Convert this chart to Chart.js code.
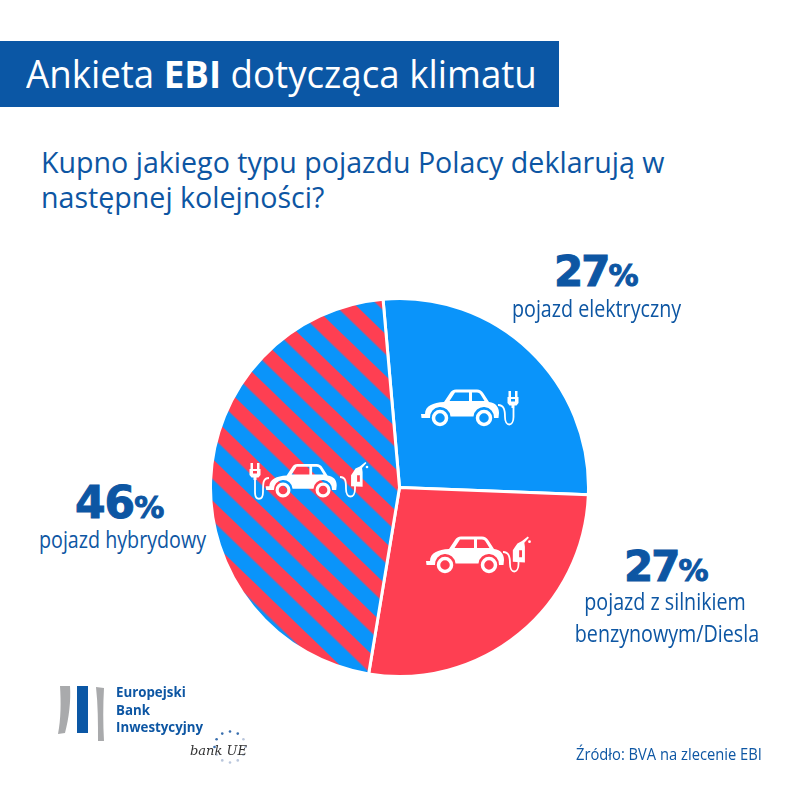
<!DOCTYPE html>
<html lang="pl">
<head>
<meta charset="utf-8">
<title>Ankieta EBI dotycząca klimatu</title>
<script src="https://cdn.jsdelivr.net/npm/chart.js@4"></script>
<style>
  html, body { margin: 0; padding: 0; background: #fff; }
  #page { position: relative; width: 800px; height: 800px; overflow: hidden; font-family: "Open Sans", sans-serif; color: #0d56a3; }
  #page div { position: absolute; white-space: nowrap; }
  #banner { left: 0; top: 41px; width: 559px; height: 66px; background: #0b57a5; }
  #title { left: 26px; top: 48px; font-size: 38px; line-height: 50px; color: #fff; transform: scaleX(.965); transform-origin: left; }
  #question { left: 41px; top: 144px; font-size: 28.6px; line-height: 35px; }
  #pie { position: absolute; left: 209px; top: 297px; }
  .pct { font-family: "DejaVu Sans", sans-serif; font-weight: 700; font-size: 42px; line-height: 40px; letter-spacing: -2px; -webkit-text-stroke: 1px #0d56a3; }
  .pct span { font-size: 30px; letter-spacing: 0; }
  .lbl { font-size: 24px; line-height: 32px; text-align: center; transform: scaleX(.82); }
  #logo { left: 116px; top: 684px; font-size: 13.3px; line-height: 17.5px; font-weight: 700; }
  #bankue { left: 190px; top: 743px; font-family: "DejaVu Serif", serif; font-style: italic; font-size: 13px; color: #333; }
  #source { left: 576px; top: 743px; font-size: 15.5px; line-height: 22px; transform: scaleX(.95); transform-origin: left; }
  svg { position: absolute; left: 0; top: 0; }
</style>
</head>
<body>
<div id="page">
  <div id="banner"></div>
  <div id="title">Ankieta <b>EBI</b> dotycząca klimatu</div>
  <div id="question">Kupno jakiego typu pojazdu Polacy deklarują w<br>następnej kolejności?</div>
  <canvas id="pie" width="381" height="381"></canvas>

  <div class="pct" id="pct0" style="left:554px;top:252px"></div>
  <div class="lbl" id="lbl0" style="left:494px;top:292px;width:200px"></div>
  <div class="pct" id="pct1" style="left:624px;top:547px"></div>
  <div class="lbl" id="lbl1" style="left:555px;top:585px;width:220px"></div>
  <div class="pct" id="pct2" style="left:75px;top:483px;font-size:44px;letter-spacing:-1px"></div>
  <div class="lbl" id="lbl2" style="left:21px;top:523px;width:200px"></div>

  <svg width="800" height="800" viewBox="0 0 800 800">
    <defs>
      <g id="car">
        <path fill="#fff" fill-rule="evenodd" d="M421 414h4c0-8 8-11.500 19-12l6-9q2-3.500 6-3.500h21q4 0 6.500 4l5.500 8.500c7 1 10 5 10 11l-.5 5h-4.500a10.200 10.200 0 0 0-20.500-1.500h-23a10.200 10.200 0 0 0-20.500 1.500h-8.500zM455 392.500l-5.500 8.500h19.500v-8.500zM472 392.500v8.500h12.500l-4-6.500q-1-2-3.500-2z"/>
        <circle cx="440" cy="418" r="6.500" fill="none" stroke="#fff" stroke-width="3.500"/>
        <circle cx="484" cy="418" r="6.500" fill="none" stroke="#fff" stroke-width="3.500"/>
      </g>
      <g id="plug">
        <path fill="#fff" fill-rule="evenodd" d="M-4.500 0h2.500v6h4v-6h2.500v6h1v6l-2 2.500h-2v2.500h-3v-2.500h-2l-2-2.500v-6h1zM-2 8v2.500h4v-2.500z"/>
      </g>
      <g id="pump">
        <path fill="#fff" fill-rule="evenodd" d="M-4.500 12v-10l2-3 2-3 4-2 5-4 1 1-4 4.500.5 3.500v13.500zM1 2v6h2.500v-6z"/>
        <circle cx="10" cy="-5.500" r="1.200" fill="#fff"/>
      </g>
    </defs>

    <use href="#car"/>
    <use href="#plug" x="513" y="391"/>
    <path fill="none" stroke="#fff" stroke-width="1.800" d="M498 405c6 0 7 5 7 12 0 10 8.500 10 8.500 0v-9"/>

    <use href="#car" x="5" y="147"/>
    <g transform="translate(518 548) scale(1.15)"><use href="#pump"/></g>
    <path fill="none" stroke="#fff" stroke-width="1.800" d="M503 552c6 0 7 5 7 12 0 10 8.500 10 8.500 0v-5"/>

    <g transform="translate(283 490) scale(.91) translate(-440 -418)"><use href="#car"/></g>
    <use href="#plug" x="255" y="463"/>
    <path fill="none" stroke="#fff" stroke-width="1.800" d="M255 480v12c0 9 8 9 8 0 0-9 0-14 6-14"/>
    <g transform="translate(356 473) scale(1.1)"><use href="#pump"/></g>
    <path fill="none" stroke="#fff" stroke-width="1.800" d="M340 477c6 0 6 5 6 12 0 10 9 10 9 0v-4"/>

    <!-- logo -->
    <path fill="#a9aaac" d="M60 686h10c1 15-1 32-5 47l-7 1c3-15 3-32 2-48z"/>
    <rect x="77" y="686" width="11" height="47" fill="#0b57a5"/>
    <path fill="#a9aaac" d="M96 687l8 1c-1 17-1 36 0 53h-6c0-18 0-36-2-54z"/>
    <g id="stars"></g>
  </svg>

  <div id="logo">Europejski<br>Bank<br>Inwestycyjny</div>
  <div id="bankue">bank UE</div>
  <div id="source">Źródło: BVA na zlecenie EBI</div>
</div>

<script>
  // --- Data ---
  const categories = ["pojazd elektryczny", "pojazd z silnikiem<br>benzynowym/Diesla", "pojazd hybrydowy"];
  const shares = [27, 27, 46];
  const blue = "#0a94fa";
  const red = "#fe3f52";

  // --- Striped fill for the hybrid slice ---
  function stripes() {
    const period = 30;
    const redWidth = 14.5;
    const tile = document.createElement("canvas");
    tile.width = 4;
    tile.height = period;
    const c = tile.getContext("2d");
    c.fillStyle = blue;
    c.fillRect(0, 0, 4, period);
    c.fillStyle = red;
    c.fillRect(0, 0, 4, redWidth);
    const p = c.createPattern(tile, "repeat");
    p.setTransform(new DOMMatrix().rotate(44).translate(0, -6));
    return p;
  }

  const ctx = document.getElementById("pie").getContext("2d");

  new Chart(ctx, {
    type: "pie",
    data: {
      labels: categories,
      datasets: [{
        data: shares,
        backgroundColor: [blue, red, stripes()],
        borderColor: "#fff",
        borderWidth: 3
      }]
    },
    options: {
      responsive: false,
      animation: false,
      rotation: -5,
      plugins: { legend: { display: false }, tooltip: { enabled: false } }
    }
  });

  // --- Labels ---
  shares.forEach((v, i) => {
    document.getElementById("pct" + i).innerHTML = v + "<span>%</span>";
    document.getElementById("lbl" + i).innerHTML = categories[i];
  });

  // --- EU stars in the logo ---
  const stars = document.getElementById("stars");
  for (let i = 0; i < 12; i++) {
    const a = i * Math.PI / 6;
    const s = document.createElementNS("http://www.w3.org/2000/svg", "circle");
    s.setAttribute("cx", 230 + 15.5 * Math.sin(a));
    s.setAttribute("cy", 747 - 15.5 * Math.cos(a));
    s.setAttribute("r", 1.3);
    s.setAttribute("fill", (i < 2 || i > 8) ? "#3a6fae" : "#b9c6dc");
    stars.appendChild(s);
  }
</script>
</body>
</html>
